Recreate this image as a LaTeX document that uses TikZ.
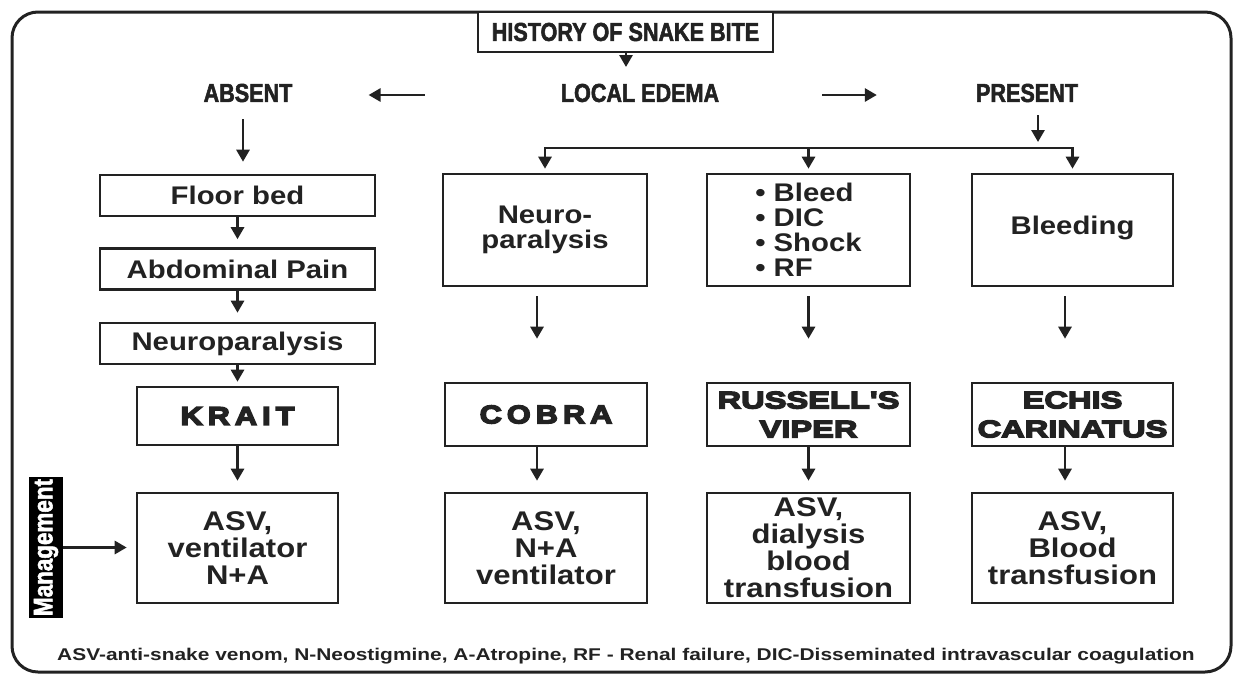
\documentclass[tikz,border=0pt]{standalone}
\usepackage{fontspec}
\setmainfont{Liberation Sans}
\newfontfamily\bodyf[FakeStretch=1.15]{Liberation Sans}
\newfontfamily\footf[FakeStretch=1.23]{Liberation Sans}
\newfontfamily\headf[FakeStretch=0.83,FakeBold=2]{Liberation Sans}
\newfontfamily\heavyf[FakeStretch=1.2,FakeBold=6,LetterSpace=20]{Liberation Sans}
\newfontfamily\heavyn[FakeStretch=1.36,FakeBold=6]{Liberation Sans}
\usetikzlibrary{arrows.meta}
\definecolor{ink}{HTML}{222222}
\tikzset{
  box/.style={draw=ink, line width=2.6pt, fill=white, inner sep=0pt, align=center, text=ink},
  bodytxt/.style={font=\bodyf\bfseries\fontsize{25.5}{25}\selectfont},
  bigtxt/.style={font=\bodyf\bfseries\fontsize{27}{27}\selectfont},
  headtxt/.style={inner sep=0pt, text=ink, font=\headf\bfseries\fontsize{26}{26}\selectfont},
  heavytxt/.style={font=\heavyf\bfseries\fontsize{25.5}{28}\selectfont},
  heavyntxt/.style={font=\heavyn\bfseries\fontsize{24}{29}\selectfont},
  arr/.style={draw=ink, line width=2.8pt, -{Triangle[length=12pt,width=13pt]}},
  plain/.style={draw=ink, line width=2.8pt},
}
\begin{document}
\begin{tikzpicture}[x=1pt,y=-1pt]
\useasboundingbox (0,0) rectangle (1234,675);
\fill[white] (0,0) rectangle (1234,675);
% outer frame
\draw[ink, line width=3pt, rounded corners=26pt] (12,12) rectangle (1231,672);

% title and top row
\node[box, headtxt, minimum width=295pt, minimum height=40pt] (title) at (625.5,32) {HISTORY OF SNAKE BITE};
\node[headtxt] (local) at (640,93) {LOCAL EDEMA};
\node[headtxt] (absent) at (248,93) {ABSENT};
\node[headtxt] (present) at (1027,93) {PRESENT};
\coordinate (br) at (1038,148);

\draw[arr, shorten >=8pt] (title.south -| 626,0) -- (626,75);
\draw[arr, shorten <=136pt, shorten >=76pt] (local.west |- 0,95) -- (absent.east |- 0,95);
\draw[arr, shorten <=103pt, shorten >=99pt] (local.east |- 0,95) -- (present.west |- 0,95);

% left column
\node[box, bodytxt, minimum width=275pt, minimum height=41pt] (floor) at (237.5,195.5) {Floor bed};
\node[box, bodytxt, minimum width=275pt, minimum height=41pt] (abd) at (237.5,269) {Abdominal Pain};
\node[box, bodytxt, minimum width=275pt, minimum height=41pt] (neurol) at (237.5,343.5) {Neuroparalysis};
\node[box, heavytxt, minimum width=201pt, minimum height=58pt] (krait) at (237.5,416) {KRAIT};
\node[box, bigtxt, minimum width=201pt, minimum height=110pt] (mk) at (237.5,548) {ASV,\\ventilator\\N+A};

% column 2
\node[box, bodytxt, minimum width=204pt, minimum height=112pt] (neuro) at (545,230) {Neuro-\\paralysis};
\node[box, heavytxt, minimum width=202pt, minimum height=63pt] (cobra) at (546,414.5) {COBRA};
\node[box, bigtxt, minimum width=202pt, minimum height=110pt] (mc) at (546,548) {ASV,\\N+A\\ventilator};

% column 3
\node[box, bodytxt, minimum width=203pt, minimum height=112pt, align=left] (bleedl) at (808.5,230) {\textbullet\ Bleed\\\textbullet\ DIC\\\textbullet\ Shock\\\textbullet\ RF};
\node[box, heavyntxt, minimum width=203pt, minimum height=63pt] (russell) at (808.5,414.5) {RUSSELL'S\\VIPER};
\node[box, bigtxt, minimum width=203pt, minimum height=110pt] (mr) at (808.5,548) {ASV,\\dialysis\\blood\\transfusion};

% column 4
\node[box, bodytxt, minimum width=201pt, minimum height=112pt] (bleeding) at (1072.5,230) {\raisebox{10pt}{Bleeding}};
\node[box, heavyntxt, minimum width=201pt, minimum height=63pt] (echis) at (1072.5,414.5) {ECHIS\\CARINATUS};
\node[box, bigtxt, minimum width=201pt, minimum height=110pt] (me) at (1072.5,548) {ASV,\\Blood\\transfusion};

% management
\node[fill=black, text=white, rotate=90, inner sep=0pt, minimum width=141pt, minimum height=34pt,
      font=\headf\bfseries\fontsize{27}{27}\selectfont] (mgmt) at (46,547.5) {Management};

% footer
\node[text=ink, inner sep=0pt, font=\footf\bfseries\fontsize{17}{18}\selectfont] (foot) at (626,656)
  {ASV-anti-snake venom, N-Neostigmine, A-Atropine, RF - Renal failure, DIC-Disseminated intravascular coagulation};

% connectors: absent side
\draw[arr, shorten <=17pt, shorten >=12pt] ([xshift=-5pt]absent.south) -- ([xshift=-5pt]absent.south |- floor.north);
\draw[arr, shorten >=8pt] (floor.south) -- (abd.north);
\draw[arr, shorten >=9pt] (abd.south) -- (neurol.north);
\draw[arr, shorten >=4pt] (neurol.south) -- (krait.north);
\draw[arr, shorten >=11pt] (krait.south) -- (mk.north);
\draw[arr, shorten >=9pt] (mgmt.south) -- (mgmt.south -| mk.west);

% present side
\draw[arr, shorten <=13pt, shorten >=6pt] ([xshift=11pt]present.south) -- (br);
\draw[plain, line cap=rect] (neuro.north |- br) -- (bleeding.north |- br);
\draw[arr, shorten >=4pt] (neuro.north |- br) -- (neuro.north);
\draw[arr, shorten >=4pt] (bleedl.north |- br) -- (bleedl.north);
\draw[arr, shorten >=4pt] (bleeding.north |- br) -- (bleeding.north);

\draw[arr, shorten <=9pt, shorten >=43pt] ([xshift=-8pt]neuro.south) -- ([xshift=-8pt]neuro.south |- cobra.north);
\draw[arr, shorten >=11pt] ([xshift=-9pt]cobra.south) -- ([xshift=-9pt]cobra.south |- mc.north);
\draw[arr, shorten <=9pt, shorten >=43pt] (bleedl.south) -- (russell.north);
\draw[arr, shorten >=11pt] (russell.south) -- (mr.north);
\draw[arr, shorten <=9pt, shorten >=43pt] ([xshift=-7.5pt]bleeding.south) -- ([xshift=-7.5pt]bleeding.south |- echis.north);
\draw[arr, shorten >=11pt] ([xshift=-7.5pt]echis.south) -- ([xshift=-7.5pt]echis.south |- me.north);
\end{tikzpicture}
\end{document}
